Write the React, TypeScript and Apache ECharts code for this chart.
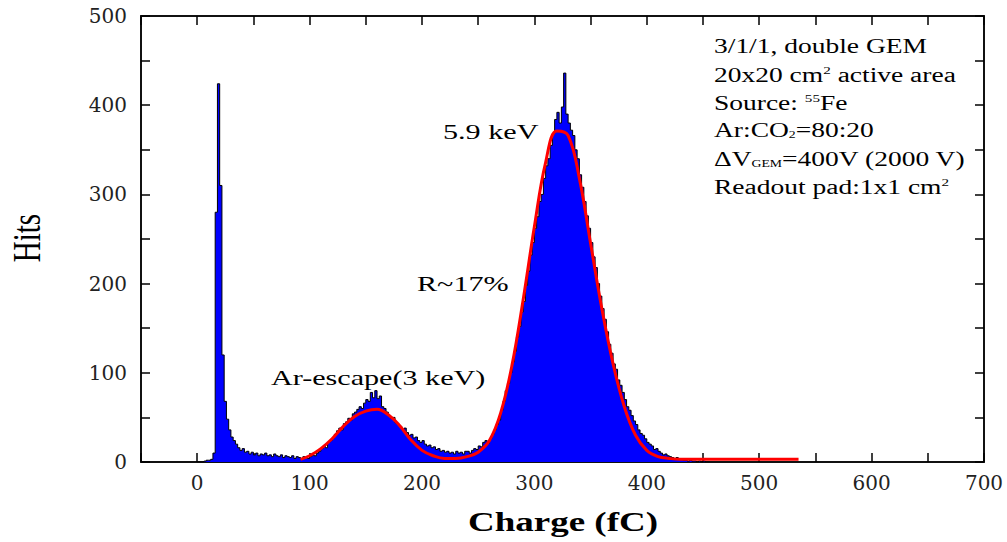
import React, { useEffect, useRef } from "react";
import * as echarts from "echarts";

// ---- Histogram: 2 fC bins starting at 0 fC ----
const BIN_START = 0;
const BIN_WIDTH = 2;

// bins 0 .. 98 fC
const countsLow = [
  0, 0, 0, 1, 2, 2, 3, 10, 280, 424,
  310, 120, 68, 48, 36, 28, 24, 20, 16, 13,
  15, 11, 12, 9, 11, 8, 10, 7, 9, 8,
  10, 7, 8, 6, 9, 7, 6, 8, 5, 7,
  6, 5, 7, 4, 6, 5, 4, 6, 5, 4,
];

// bins 100 .. 238 fC (Ar escape peak)
const countsEscape = [
  6, 8, 7, 10, 12, 15, 18, 16, 22, 24,
  27, 31, 35, 38, 36, 43, 45, 49, 47, 54,
  56, 59, 62, 60, 66, 70, 68, 78, 72, 80,
  71, 74, 62, 60, 56, 52, 49, 50, 44, 42,
  40, 36, 38, 33, 30, 31, 27, 28, 24, 22,
  24, 20, 18, 19, 16, 17, 14, 15, 12, 13,
  11, 12, 10, 11, 9, 12, 10, 11, 9, 12,
];

// bins 240 .. 454 fC (5.9 keV photopeak)
const countsMain = [
  12, 10, 13, 15, 14, 18, 17, 22, 24, 21,
  26, 31, 36, 42, 47, 58, 68, 80, 88, 100,
  112, 124, 140, 152, 168, 180, 198, 214, 232, 246,
  262, 275, 292, 300, 318, 332, 340, 355, 368, 384,
  392, 380, 398, 436, 390, 380, 372, 366, 350, 340,
  322, 308, 292, 276, 262, 246, 230, 218, 200, 186,
  172, 160, 146, 132, 122, 110, 104, 92, 86, 78,
  70, 62, 58, 52, 46, 42, 36, 32, 30, 26,
  22, 20, 18, 14, 15, 12, 10, 8, 9, 7,
  6, 5, 4, 5, 3, 3, 2, 2, 1, 2,
  1, 1, 0, 1, 0, 1, 0, 0,
];

// ---- Fit curve (red) ----
const fitCharge = [92, 100, 110, 120, 130, 140, 150, 160, 170, 180, 190, 200, 210, 220, 230, 240, 250, 260, 270, 280, 290, 300, 310, 320, 330, 340, 350, 360, 370, 380, 390, 400, 410, 420, 430, 440, 535];
const fitHits = [3, 7, 15, 26, 40, 51, 57, 59, 53, 41, 25, 13, 7, 4, 4, 6, 11, 24, 55, 108, 182, 264, 336, 371, 366, 318, 245, 172, 110, 62, 30, 13, 6, 4, 3, 3, 3];

// ---- Axes ----
const xLabelValues = [0, 100, 200, 300, 400, 500, 600, 700];
const yLabelValues = [0, 100, 200, 300, 400, 500];

// ---- Texts ----
const peakLabels = [
  { text: "5.9 keV", x: 443, y: 131 },
  { text: "R~17%", x: 417, y: 283 },
  { text: "Ar-escape(3 keV)", x: 271, y: 377 },
];
const infoLines = [
  { text: "3/1/1, double GEM", y: 46 },
  { text: "20x20 cm{sup|2} active area", y: 75 },
  { text: "Source: {sup|55}Fe", y: 103 },
  { text: "Ar:CO{sub|2}=80:20", y: 130 },
  { text: "\u0394V{sub|GEM}=400V (2000 V)", y: 159 },
  { text: "Readout pad:1x1 cm{sup|2}", y: 187 },
];

const SERIF = "Liberation Serif";
const STRETCH = 1.37;

export default function App() {
  const ref = useRef<HTMLDivElement>(null);

  useEffect(() => {
    if (!ref.current) return;
    const chart = echarts.init(ref.current, null, { renderer: "svg" });

    const counts = [...countsLow, ...countsEscape, ...countsMain];
    const hist: number[][] = counts.map((c, i) => [BIN_START + i * BIN_WIDTH, c]);
    hist.push([BIN_START + counts.length * BIN_WIDTH, 0]);
    const fit = fitCharge.map((q, i) => [q, fitHits[i]]);

    const mkLine = () => ({ show: true, onZero: false, lineStyle: { color: "#111", width: 2 } });
    const mkTick = () => ({ show: true, inside: true, length: 9, lineStyle: { color: "#000", width: 1.5 } });
    const tickFont = { fontFamily: "DejaVu Serif", fontSize: 20, color: "#222" };

    const textStyle = (extra: any) => ({
      fill: "#000",
      fontFamily: SERIF,
      align: "left",
      verticalAlign: "middle",
      textAlign: "left",
      textVerticalAlign: "middle",
      ...extra,
    });

    const richStyles = {
      sup: { fontSize: 11, fontFamily: SERIF, fill: "#000", verticalAlign: "top" },
      sub: { fontSize: 10, fontFamily: SERIF, fill: "#000", verticalAlign: "bottom" },
    };

    const graphics: any[] = [
      ...peakLabels.map((p) => ({
        type: "text",
        x: p.x,
        y: p.y,
        scaleX: STRETCH,
        silent: true,
        style: textStyle({ text: p.text, fontSize: 22 }),
      })),
      ...infoLines.map((l) => ({
        type: "text",
        x: 714,
        y: l.y,
        scaleX: 1.375,
        silent: true,
        style: textStyle({ text: l.text, fontSize: 20, rich: richStyles }),
      })),
      {
        type: "text",
        x: 27,
        y: 238,
        rotation: Math.PI / 2,
        scaleY: STRETCH,
        silent: true,
        style: textStyle({ text: "Hits", fontSize: 29, align: "center", textAlign: "center" }),
      },
      {
        type: "text",
        x: 563,
        y: 522,
        scaleX: STRETCH,
        silent: true,
        style: textStyle({
          text: "Charge (fC)",
          fontSize: 27,
          fontWeight: "bold",
          align: "center",
          textAlign: "center",
        }),
      },
    ];

    chart.setOption({
      animation: false,
      backgroundColor: "#fff",
      grid: { left: 141, right: 23, top: 16, bottom: 80 },
      xAxis: [
        {
          type: "value",
          min: -50,
          max: 700,
          interval: 50,
          position: "bottom",
          axisLine: mkLine(),
          axisTick: mkTick(),
          splitLine: { show: false },
          axisLabel: {
            ...tickFont,
            margin: 11,
            formatter: (v: number) => (xLabelValues.includes(v) ? String(v) : ""),
          },
        },
        {
          type: "value",
          min: -50,
          max: 700,
          interval: 50,
          position: "top",
          axisLine: mkLine(),
          axisTick: mkTick(),
          splitLine: { show: false },
          axisLabel: { show: false },
        },
      ],
      yAxis: [
        {
          type: "value",
          min: 0,
          max: 500,
          interval: 50,
          position: "left",
          axisLine: mkLine(),
          axisTick: mkTick(),
          splitLine: { show: false },
          axisLabel: {
            ...tickFont,
            margin: 14,
            formatter: (v: number) => (yLabelValues.includes(v) ? String(v) : ""),
          },
        },
        {
          type: "value",
          min: 0,
          max: 500,
          interval: 50,
          position: "right",
          axisLine: mkLine(),
          axisTick: mkTick(),
          splitLine: { show: false },
          axisLabel: { show: false },
        },
      ],
      series: [
        {
          name: "Hits",
          type: "line",
          step: "end",
          data: hist,
          showSymbol: false,
          symbol: "none",
          silent: true,
          lineStyle: { color: "#000", width: 1 },
          areaStyle: { color: "#0000ff", opacity: 1 },
          z: 2,
        },
        {
          name: "Fit",
          type: "line",
          data: fit,
          smooth: 0.4,
          showSymbol: false,
          symbol: "none",
          silent: true,
          lineStyle: { color: "#ff0000", width: 3 },
          z: 3,
        },
      ],
      graphic: graphics,
    });

    return () => chart.dispose();
  }, []);

  return (
    <div
      ref={ref}
      style={{ position: "fixed", left: 0, top: 0, width: 1007, height: 542, background: "#fff" }}
    />
  );
}
